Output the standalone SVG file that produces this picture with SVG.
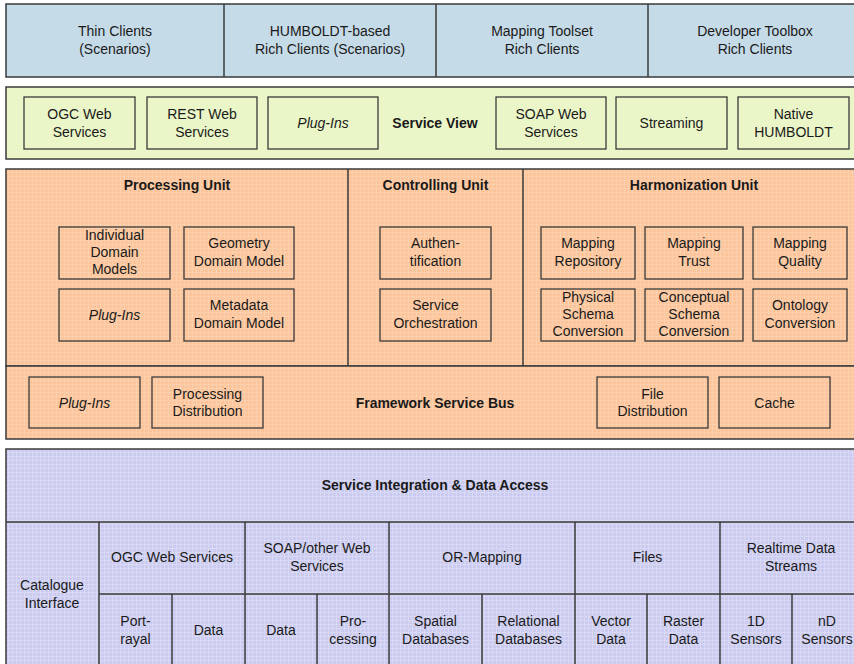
<svg xmlns="http://www.w3.org/2000/svg" width="854" height="664" viewBox="0 0 854 664">
<style>
text{font-family:"Liberation Sans",Arial,sans-serif;font-size:14px;fill:#1a1a1a;text-anchor:middle;}
.b{font-weight:bold;}
.i{font-style:italic;}
.band{stroke:#3a3a3a;stroke-width:1.5;}
.blue{fill:#c6dbe8;}
.green{fill:#ebf6c8;}
.orange{fill:url(#po);}
.purple{fill:url(#pp);}
.box{stroke:#3a3a3a;stroke-width:1.3;}
.gbox{fill:#ebf6c8;}
.obox{fill:url(#po);}
.div{stroke:#3a3a3a;stroke-width:1.5;fill:none;}
</style>
<defs>
<pattern id="po" width="4" height="4" patternUnits="userSpaceOnUse">
<rect width="4" height="4" fill="#fbc49a"/>
<rect x="0" y="0" width="1" height="4" fill="#fdd0ad"/>
<rect x="0" y="0" width="4" height="1" fill="#fdd0ad"/>
</pattern>
<pattern id="pp" width="4" height="4" patternUnits="userSpaceOnUse">
<rect width="4" height="4" fill="#cbcbef"/>
<rect x="0" y="0" width="1" height="4" fill="#d9d9f5"/>
<rect x="0" y="0" width="4" height="1" fill="#d9d9f5"/>
</pattern>
</defs>
<rect width="854" height="664" fill="#ffffff"/>

<g id="clients">
<rect class="band blue" x="6" y="4" width="870" height="73"/>
<line class="div" x1="224" y1="4" x2="224" y2="77"/>
<line class="div" x1="436" y1="4" x2="436" y2="77"/>
<line class="div" x1="648" y1="4" x2="648" y2="77"/>
<g id="thin-clients"><text x="115" y="36">Thin Clients</text><text x="115" y="54">(Scenarios)</text></g>
<g id="humboldt-clients"><text x="330" y="36">HUMBOLDT-based</text><text x="330" y="54">Rich Clients (Scenarios)</text></g>
<g id="mapping-toolset"><text x="542" y="36">Mapping Toolset</text><text x="542" y="54">Rich Clients</text></g>
<g id="developer-toolbox"><text x="755" y="36">Developer Toolbox</text><text x="755" y="54">Rich Clients</text></g>
</g>

<g id="service-view">
<rect class="band green" x="6" y="87" width="870" height="72"/>
<text class="b" x="435" y="128">Service View</text>
<g id="sv-ogc"><rect class="box gbox" x="24" y="97" width="111" height="52"/><text x="79.5" y="119">OGC Web</text><text x="79.5" y="137">Services</text></g>
<g id="sv-rest"><rect class="box gbox" x="147" y="97" width="110" height="52"/><text x="202" y="119">REST Web</text><text x="202" y="137">Services</text></g>
<g id="sv-plugins"><rect class="box gbox" x="268" y="97" width="110" height="52"/><text class="i" x="323" y="128">Plug-Ins</text></g>
<g id="sv-soap"><rect class="box gbox" x="496" y="97" width="110" height="52"/><text x="551" y="119">SOAP Web</text><text x="551" y="137">Services</text></g>
<g id="sv-streaming"><rect class="box gbox" x="616" y="97" width="111" height="52"/><text x="671.5" y="128">Streaming</text></g>
<g id="sv-native"><rect class="box gbox" x="738" y="97" width="111" height="52"/><text x="793.5" y="119">Native</text><text x="793.5" y="137">HUMBOLDT</text></g>
</g>

<g id="units">
<rect class="band orange" x="6" y="169" width="870" height="197"/>
<line class="div" x1="348" y1="169" x2="348" y2="366"/>
<line class="div" x1="523" y1="169" x2="523" y2="366"/>
<g id="processing-unit">
<text class="b" x="177" y="190">Processing Unit</text>
<g id="pu-individual"><rect class="box obox" x="59" y="227" width="111" height="52"/><text x="114.5" y="240">Individual</text><text x="114.5" y="257">Domain</text><text x="114.5" y="274">Models</text></g>
<g id="pu-geometry"><rect class="box obox" x="184" y="227" width="110" height="52"/><text x="239" y="248">Geometry</text><text x="239" y="266">Domain Model</text></g>
<g id="pu-plugins"><rect class="box obox" x="59" y="289" width="111" height="52"/><text class="i" x="114.5" y="320">Plug-Ins</text></g>
<g id="pu-metadata"><rect class="box obox" x="184" y="289" width="110" height="52"/><text x="239" y="310">Metadata</text><text x="239" y="328">Domain Model</text></g>
</g>
<g id="controlling-unit">
<text class="b" x="435.5" y="190">Controlling Unit</text>
<g id="cu-auth"><rect class="box obox" x="380" y="227" width="111" height="52"/><text x="435.5" y="248">Authen-</text><text x="435.5" y="266">tification</text></g>
<g id="cu-orch"><rect class="box obox" x="380" y="289" width="111" height="52"/><text x="435.5" y="310">Service</text><text x="435.5" y="328">Orchestration</text></g>
</g>
<g id="harmonization-unit">
<text class="b" x="694" y="190">Harmonization Unit</text>
<g id="hu-repo"><rect class="box obox" x="541" y="227" width="94" height="52"/><text x="588" y="248">Mapping</text><text x="588" y="266">Repository</text></g>
<g id="hu-trust"><rect class="box obox" x="645" y="227" width="98" height="52"/><text x="694" y="248">Mapping</text><text x="694" y="266">Trust</text></g>
<g id="hu-quality"><rect class="box obox" x="753" y="227" width="94" height="52"/><text x="800" y="248">Mapping</text><text x="800" y="266">Quality</text></g>
<g id="hu-physical"><rect class="box obox" x="541" y="289" width="94" height="52"/><text x="588" y="302">Physical</text><text x="588" y="319">Schema</text><text x="588" y="336">Conversion</text></g>
<g id="hu-conceptual"><rect class="box obox" x="645" y="289" width="98" height="52"/><text x="694" y="302">Conceptual</text><text x="694" y="319">Schema</text><text x="694" y="336">Conversion</text></g>
<g id="hu-ontology"><rect class="box obox" x="753" y="289" width="94" height="52"/><text x="800" y="310">Ontology</text><text x="800" y="328">Conversion</text></g>
</g>
</g>

<g id="service-bus">
<rect class="band orange" x="6" y="366" width="870" height="73"/>
<text class="b" x="435" y="408">Framework Service Bus</text>
<g id="sb-plugins"><rect class="box obox" x="29" y="377" width="111" height="51"/><text class="i" x="84.5" y="408">Plug-Ins</text></g>
<g id="sb-procdist"><rect class="box obox" x="152" y="377" width="111" height="51"/><text x="207.5" y="399">Processing</text><text x="207.5" y="416">Distribution</text></g>
<g id="sb-filedist"><rect class="box obox" x="597" y="377" width="111" height="51"/><text x="652.5" y="399">File</text><text x="652.5" y="416">Distribution</text></g>
<g id="sb-cache"><rect class="box obox" x="719" y="377" width="111" height="51"/><text x="774.5" y="408">Cache</text></g>
</g>

<g id="data-access">
<rect class="band purple" x="6" y="449" width="870" height="230"/>
<text class="b" x="435" y="490">Service Integration &amp; Data Access</text>
<line class="div" x1="6" y1="522" x2="876" y2="522"/>
<line class="div" x1="99" y1="594" x2="876" y2="594"/>
<line class="div" x1="99" y1="522" x2="99" y2="670"/>
<line class="div" x1="245" y1="522" x2="245" y2="670"/>
<line class="div" x1="389" y1="522" x2="389" y2="670"/>
<line class="div" x1="575" y1="522" x2="575" y2="670"/>
<line class="div" x1="720" y1="522" x2="720" y2="670"/>
<line class="div" x1="172" y1="594" x2="172" y2="670"/>
<line class="div" x1="317" y1="594" x2="317" y2="670"/>
<line class="div" x1="482" y1="594" x2="482" y2="670"/>
<line class="div" x1="647" y1="594" x2="647" y2="670"/>
<line class="div" x1="792" y1="594" x2="792" y2="670"/>
<g id="da-catalogue"><text x="52" y="590">Catalogue</text><text x="52" y="608">Interface</text></g>
<g id="da-ogc"><text x="172" y="562">OGC Web Services</text></g>
<g id="da-soap"><text x="317" y="553">SOAP/other Web</text><text x="317" y="571">Services</text></g>
<g id="da-or"><text x="482" y="562">OR-Mapping</text></g>
<g id="da-files"><text x="647.5" y="562">Files</text></g>
<g id="da-realtime"><text x="791" y="553">Realtime Data</text><text x="791" y="571">Streams</text></g>
<g id="da-portrayal"><text x="135.5" y="626">Port-</text><text x="135.5" y="644">rayal</text></g>
<g id="da-ogc-data"><text x="208.5" y="635">Data</text></g>
<g id="da-soap-data"><text x="281" y="635">Data</text></g>
<g id="da-processing"><text x="353" y="626">Pro-</text><text x="353" y="644">cessing</text></g>
<g id="da-spatial"><text x="435.5" y="626">Spatial</text><text x="435.5" y="644">Databases</text></g>
<g id="da-relational"><text x="528.5" y="626">Relational</text><text x="528.5" y="644">Databases</text></g>
<g id="da-vector"><text x="611" y="626">Vector</text><text x="611" y="644">Data</text></g>
<g id="da-raster"><text x="683.5" y="626">Raster</text><text x="683.5" y="644">Data</text></g>
<g id="da-1d"><text x="756" y="626">1D</text><text x="756" y="644">Sensors</text></g>
<g id="da-nd"><text x="827" y="626">nD</text><text x="827" y="644">Sensors</text></g>
</g>

<g id="connectors"></g>
</svg>
